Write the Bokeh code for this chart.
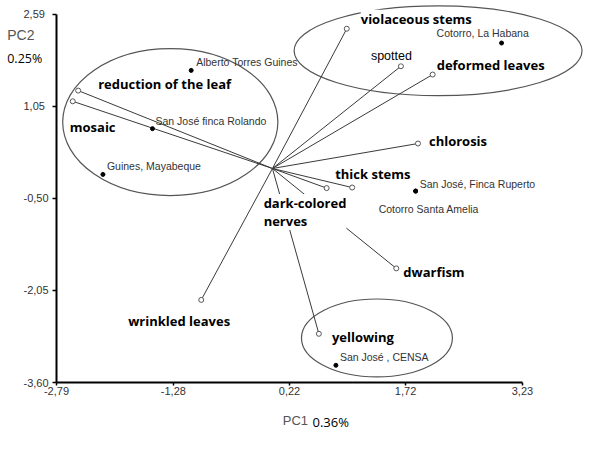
from bokeh.plotting import figure
from bokeh.models import (ColumnDataSource, LabelSet, Label, Range1d, FixedTicker,
                          CustomJSTickFormatter, LinearAxis)
from bokeh.core.properties import value
from bokeh.embed import file_html
from bokeh.resources import INLINE

# ---- data ----
var_names = ["reduction of the leaf", "mosaic", "violaceous stems", "spotted",
             "deformed leaves", "chlorosis", "thick stems", "dark-colored\nnerves",
             "dwarfism", "yellowing", "wrinkled leaves"]
var_pc1 = [-2.51, -2.58, 0.96, 1.66, 2.07, 1.88, 1.03, 0.70, 1.60, 0.60, -0.92]
var_pc2 = [1.31, 1.13, 2.35, 1.72, 1.58, 0.42, -0.32, -0.33, -1.68, -2.78, -2.21]

obs_names = ["Alberto Torres Guines", "San José finca Rolando", "Guines, Mayabeque",
             "Cotorro, La Habana", "San José, Finca Ruperto", "Cotorro Santa Amelia",
             "San José , CENSA"]
obs_pc1 = [-1.05, -1.55, -2.19, 2.96, 1.85, 1.85, 0.82]
obs_pc2 = [1.65, 0.67, -0.10, 2.11, -0.38, -0.38, -3.31]

grp_cx = [-1.32, 2.14, 1.35]
grp_cy = [0.78, 1.98, -2.85]
grp_w = [2.78, 3.72, 1.95]
grp_h = [2.47, 1.51, 1.31]

x_ticks = [-2.79, -1.28, 0.22, 1.72, 3.23]
y_ticks = [-3.60, -2.05, -0.50, 1.05, 2.59]

# ---- label placement (screen px offsets) and styles ----
var_dx = [20, -3, 14, -30, 4, 11, -17, -63, 7, 13, -73]
var_dy = [7, -26, 10, 10, 10, 3, 14, -24, -4, -3, -21]
var_font = ["Open Sans"] * 11
var_font[3] = "Liberation Sans"
var_style = ["bold"] * 11
var_style[3] = "normal"
var_size = ["13px"] * 11
var_size[3] = "12.5px"

obs_dx = [5, 3, 4, -65, 4, -37, 4]
obs_dy = [8, 8, 8, 10, 7, -18, 8]

X0, X1 = x_ticks[0], x_ticks[-1]
Y0, Y1 = y_ticks[0], y_ticks[-1]
PX = 77.4   # pixels per unit (x)
PY = 59.5   # pixels per unit (y)

p = figure(width=596, height=444, output_backend="svg", toolbar_location=None,
           x_range=Range1d(X0 - 56 / PX, X0 + 540 / PX),
           y_range=Range1d(Y0 - 62 / PY, Y1 + 14 / PY),
           x_axis_location=None, y_axis_location=None,
           min_border_left=0, min_border_right=0, min_border_top=0,
           min_border_bottom=0)
p.outline_line_color = None
p.grid.visible = False
p.background_fill_color = "white"

fmt = CustomJSTickFormatter(code="return tick.toFixed(2).replace('.', ',');")

xaxis = LinearAxis(ticker=FixedTicker(ticks=x_ticks), formatter=fmt,
                   bounds=(X0, X1), fixed_location=Y0)
yaxis = LinearAxis(ticker=FixedTicker(ticks=y_ticks), formatter=fmt,
                   bounds=(Y0, Y1), fixed_location=X0)
for ax in (xaxis, yaxis):
    ax.axis_line_width = 2
    ax.axis_line_color = "black"
    ax.major_tick_line_color = "black"
    ax.major_tick_line_width = 1.5
    ax.minor_tick_line_color = None
    ax.major_label_text_font = "Liberation Sans"
    ax.major_label_text_font_size = "11px"
    ax.major_label_text_color = "#333333"
# x axis sits in the top panel but is drawn at y = -3.60; ticks/labels turned downward
xaxis.major_tick_in = 3
xaxis.major_tick_out = 0
xaxis.major_label_standoff = -12
# y axis sits in the right panel but is drawn at x = -2.79; ticks/labels turned leftward
yaxis.major_tick_in = 4
yaxis.major_tick_out = 0
yaxis.major_label_standoff = -33
p.add_layout(xaxis, "above")
p.add_layout(yaxis, "right")

# ellipses
p.ellipse(x=grp_cx, y=grp_cy, width=grp_w, height=grp_h, fill_color=None,
          line_color="#555555", line_width=1.2)

vsrc = ColumnDataSource(dict(x0=[0.0] * len(var_pc1), y0=[0.0] * len(var_pc1),
                             x=var_pc1, y=var_pc2, name=var_names, dx=var_dx, dy=var_dy,
                             font=var_font, style=var_style, size=var_size))
p.segment(x0="x0", y0="y0", x1="x", y1="y", source=vsrc, line_color="#3a3a3a",
          line_width=1)
p.scatter(x="x", y="y", source=vsrc, marker="circle", size=5, fill_color="white",
          line_color="#555555", line_width=1)

osrc = ColumnDataSource(dict(x=obs_pc1, y=obs_pc2, name=obs_names, dx=obs_dx, dy=obs_dy))
p.scatter(x="x", y="y", source=osrc, marker="circle", size=4, color="black")

p.add_layout(LabelSet(x="x", y="y", text="name", source=vsrc, x_offset="dx",
                      y_offset="dy", text_font="font", text_font_style="style",
                      text_font_size="size", text_color="black",
                      text_align="left", text_baseline="middle",
                      text_line_height=1.0,
                      background_fill_color="white"))
p.add_layout(LabelSet(x="x", y="y", text="name", source=osrc, x_offset="dx",
                      y_offset="dy", text_font=value("Liberation Sans"),
                      text_font_size=value("10.5px"), text_color="#333333",
                      text_align="left", text_baseline="middle"))

# axis titles
p.add_layout(Label(x=X0 - 49.3 / PX, y=Y1 - 21 / PY, text="PC2",
                   text_font="Liberation Sans", text_font_size="14px",
                   text_color="#555555", text_align="left", text_baseline="middle"))
p.add_layout(Label(x=X0 - 49.3 / PX, y=Y1 - 44.3 / PY, text="0.25%",
                   text_font="Open Sans", text_font_size="12.5px",
                   text_color="black", text_align="left", text_baseline="middle"))
p.add_layout(Label(x=X0 + 226.3 / PX, y=Y0 - 38 / PY, text="PC1",
                   text_font="Liberation Sans", text_font_size="13px",
                   text_color="#555555", text_align="left", text_baseline="middle"))
p.add_layout(Label(x=X0 + 256 / PX, y=Y0 - 39.7 / PY, text="0.36%",
                   text_font="Open Sans", text_font_size="13px",
                   text_color="black", text_align="left", text_baseline="middle"))

open("out.html", "w").write(file_html(p, INLINE))
